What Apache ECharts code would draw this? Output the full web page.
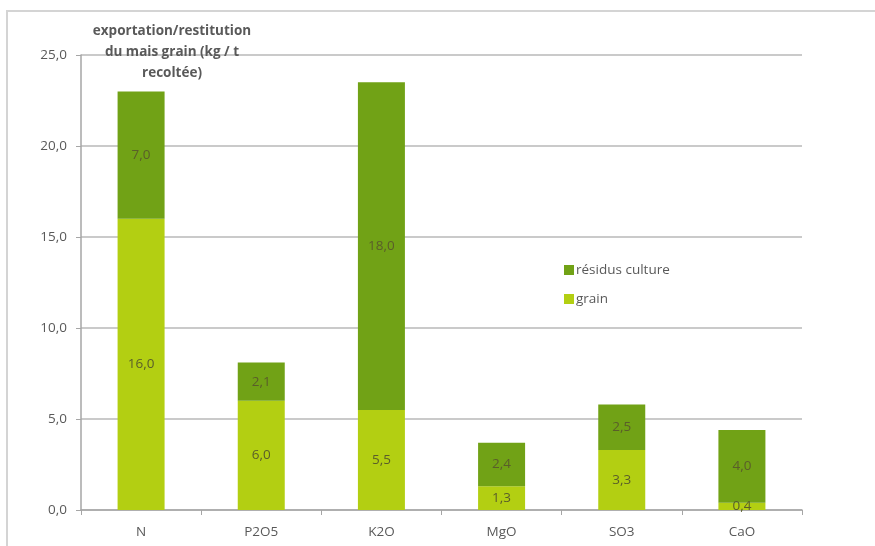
<!DOCTYPE html>
<html><head><meta charset="utf-8">
<script src="https://cdn.jsdelivr.net/npm/echarts@6/dist/echarts.min.js"></script>
<style>html,body{margin:0;padding:0;background:#fff}#c{width:875px;height:546px}</style>
</head><body><div id="c"></div>
<script>
const categories = ['N', 'P2O5', 'K2O', 'MgO', 'SO3', 'CaO'];
const grain = [16.0, 6.0, 5.5, 1.3, 3.3, 0.4];
const residus = [7.0, 2.1, 18.0, 2.4, 2.5, 4.0];
const titleText = 'exportation/restitution\ndu mais grain (kg / t\nrecoltée)';
const fmt = v => v.toFixed(1).replace('.', ',');
const font = '"Open Sans", "Liberation Sans", sans-serif';
const chart = echarts.init(document.getElementById('c'));
const labelStyle = {show: true, position: 'inside', color: '#5a5e2a', fontSize: 13.5, fontFamily: font,
  formatter: p => fmt(p.value)};
chart.setOption({
  animation: false,
  graphic: [{type: 'rect', shape: {x: 7, y: 11, width: 900, height: 600},
    style: {fill: 'none', stroke: '#d4d4d4', lineWidth: 2}, silent: true}],
  title: {text: titleText, left: 167, top: 16, textAlign: 'center',
    textStyle: {fontSize: 13.5, fontWeight: 'bold', color: '#595959', fontFamily: font, lineHeight: 21}},
  legend: {data: ['résidus culture', 'grain'], orient: 'vertical', left: 559, top: 258,
    itemWidth: 10, itemHeight: 10, itemGap: 15, icon: 'rect',
    textStyle: {fontSize: 13.5, color: '#595959', fontFamily: font, padding: [0, 0, 0, -3]}},
  grid: {left: 81, right: 73, top: 55, bottom: 36, containLabel: false},
  xAxis: {type: 'category', data: categories,
    axisLine: {lineStyle: {color: '#a6a6a6', width: 1.5}},
    axisTick: {show: true, length: 5, lineStyle: {color: '#a6a6a6'}},
    axisLabel: {color: '#595959', fontSize: 13.5, fontFamily: font, margin: 15}},
  yAxis: {type: 'value', min: 0, max: 25, interval: 5,
    axisLine: {show: true, lineStyle: {color: '#a6a6a6', width: 1.5}},
    axisTick: {show: true, length: 5, lineStyle: {color: '#a6a6a6'}},
    splitLine: {lineStyle: {color: '#b8b8b8', width: 1.5}},
    axisLabel: {color: '#595959', fontSize: 13.5, fontFamily: font, margin: 14, formatter: v => fmt(v)}},
  series: [
    {name: 'grain', type: 'bar', stack: 's', data: grain, barWidth: 47,
      itemStyle: {color: '#b3cf12'}, label: labelStyle},
    {name: 'résidus culture', type: 'bar', stack: 's', data: residus, barWidth: 47,
      itemStyle: {color: '#71a216'}, label: labelStyle}
  ]
});
</script></body></html>
